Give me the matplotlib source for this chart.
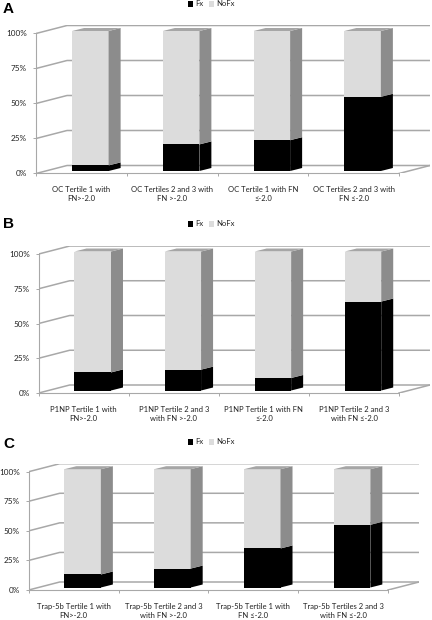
import matplotlib
matplotlib.use('Agg')
import matplotlib.pyplot as plt

W, H = 432, 620

percent_ticks = [0, 25, 50, 75, 100]
percent_labels = ['0%', '25%', '50%', '75%', '100%']

labels_a = ['OC Tertile 1 with\nFN>-2.0', 'OC Tertiles 2 and 3 with\nFN >-2.0',
            'OC Tertile 1 with FN\n≤-2.0', 'OC Tertiles 2 and 3 with\nFN ≤-2.0']
labels_b = ['P1NP Tertile 1 with\nFN>-2.0', 'P1NP Tertile 2 and 3\nwith FN >-2.0',
            'P1NP Tertile 1 with FN\n≤-2.0', 'P1NP Tertile 2 and 3\nwith FN ≤-2.0']
labels_c = ['Trap-5b Tertile 1 with\nFN>-2.0', 'Trap-5b Tertile 2 and 3\nwith FN >-2.0',
            'Trap-5b Tertile 1 with\nFN ≤-2.0', 'Trap-5b Tertiles 2 and 3\nwith FN ≤-2.0']

fx_a = [4, 19, 22, 53]
fx_b = [13, 15, 9, 64]
fx_c = [11, 16, 33, 53]

GRID = '#a8a8a8'
LIGHT = '#dcdcdc'
SIDE = '#8c8c8c'
TOP = '#a6a6a6'
TEXT = '#222222'

plt.rcParams['font.family'] = ['Lato', 'DejaVu Sans']
plt.rcParams['font.size'] = 5.5


def panel(fig, letter, letter_y, legend_y, x0, x1, y0, y100, labels, fx):
    # everything in one axes: front wall at x 0..4, y 0..100, depth goes up and right
    unit = (x1 - x0) / 4
    scale = (y0 - y100) / 100
    wall_dx, wall_dy = 31 / unit, 8 / scale
    shift_x, shift_y = 9 / unit, 2.5 / scale
    bar_dx, bar_dy = 12 / unit, 3 / scale
    width = 36.5 / unit

    ax = fig.add_axes([x0 / W, 1 - y0 / H, (x1 - x0 + 31) / W, (y0 - y100 + 8) / H])
    ax.set_xlim(0, 4 + wall_dx)
    ax.set_ylim(0, 100 + wall_dy)
    ax.patch.set_visible(False)

    for v in percent_ticks:
        ax.plot([0, wall_dx, 4 + wall_dx], [v, v + wall_dy, v + wall_dy], color=GRID, lw=1.1, zorder=1)
    ax.plot([4, 4 + wall_dx], [0, wall_dy], color=GRID, lw=1.1, zorder=1)

    pos = [i + 0.5 + shift_x for i in range(4)]
    nofx = [100 - v for v in fx]
    base = [shift_y] * 4
    tops = [v + shift_y for v in fx]
    b1 = ax.bar(pos, fx, width, bottom=base, color='black', label='Fx', zorder=3)
    b2 = ax.bar(pos, nofx, width, bottom=tops, color=LIGHT, label='NoFx', zorder=3)

    for p, t in zip(pos, tops):
        r = p + width / 2
        l = p - width / 2
        ax.fill([r, r + bar_dx, r + bar_dx, r], [shift_y, shift_y + bar_dy, t + bar_dy, t], color='black', lw=0, zorder=3)
        ax.fill([r, r + bar_dx, r + bar_dx, r], [t, t + bar_dy, 100 + shift_y + bar_dy, 100 + shift_y], color=SIDE, lw=0, zorder=3)
        ax.fill([l, l + bar_dx, r + bar_dx, r], [100 + shift_y, 100 + shift_y + bar_dy, 100 + shift_y + bar_dy, 100 + shift_y], color=TOP, lw=0, zorder=3)

    for s in ['top', 'right']:
        ax.spines[s].set_visible(False)
    ax.spines['left'].set_bounds(0, 100)
    ax.spines['bottom'].set_bounds(0, 4)
    ax.spines['left'].set_color(GRID)
    ax.spines['bottom'].set_color(GRID)

    ax.set_yticks(percent_ticks)
    ax.set_yticklabels(percent_labels)
    ax.set_xticks([0.5, 1.5, 2.5, 3.5])
    ax.set_xticklabels(labels, linespacing=1.4)
    ax.set_xticks([0, 1, 2, 3, 4], minor=True)
    ax.tick_params(axis='x', which='major', length=0, pad=9, colors=TEXT, labelsize=5.5)
    ax.tick_params(axis='x', which='minor', length=2, width=0.7, color=GRID)
    ax.tick_params(axis='y', length=2, width=0.7, color=GRID, labelcolor=TEXT, labelsize=5.9, pad=4.5)

    fig.text(3 / W, 1 - letter_y / H, letter, family='Liberation Sans', fontweight='bold', fontsize=11, va='center', color='black')
    ax.legend([b1, b2], ['Fx', 'NoFx'], loc='center', bbox_to_anchor=(211.5 / W, 1 - legend_y / H),
              bbox_transform=fig.transFigure, ncol=2, frameon=False, handlelength=0.6, handleheight=0.7,
              handletextpad=0.3, columnspacing=0.8, borderpad=0, fontsize=5.5, labelcolor=TEXT)
    return ax


fig = plt.figure(figsize=(W / 100, H / 100), dpi=100)
panel(fig, 'A', 9, 4, 36, 399, 173.5, 33.5, labels_a, fx_a)
panel(fig, 'B', 224, 224, 38.7, 399, 393, 254, labels_b, fx_b)
panel(fig, 'C', 444, 442, 28.7, 388, 590, 471.7, labels_c, fx_c)
fig.savefig('out.png', dpi=100, facecolor='white')
